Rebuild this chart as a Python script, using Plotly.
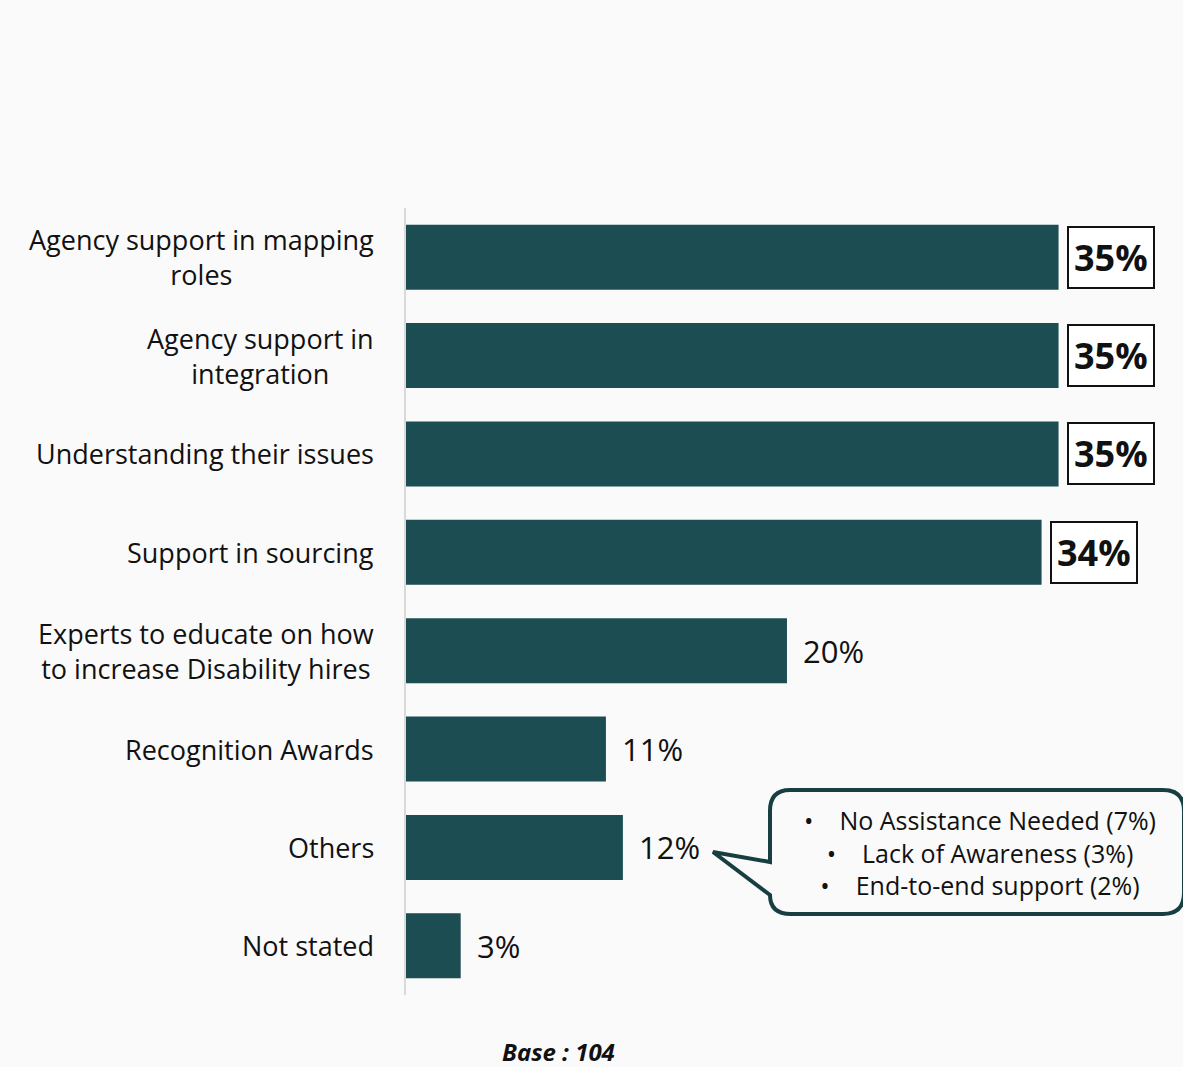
import plotly.graph_objects as go

categories = [
    "Agency support in mapping<br>roles",
    "Agency support in<br>integration",
    "Understanding their issues",
    "Support in sourcing",
    "Experts to educate on how<br>to increase Disability hires",
    "Recognition Awards",
    "Others",
    "Not stated",
]
values = [34.6, 34.6, 34.6, 33.7, 20.2, 10.6, 11.5, 2.9]
value_labels = ["35%", "35%", "35%", "34%", "20%", "11%", "12%", "3%"]
highlight = [True, True, True, True, False, False, False, False]
others_breakdown = [
    "No Assistance Needed (7%)",
    "Lack of Awareness (3%)",
    "End-to-end support (2%)",
]
base_text = "104"

BAR = "#1b4d52"
BG = "#fafafa"
FONT = "Open Sans"

W, H = 1183, 1067
ML, MR, MT, MB = 406, 23, 208, 72
PW, PH = W - ML - MR, H - MT - MB

ids = list(range(len(categories)))

fig = go.Figure(go.Bar(
    x=values, y=ids, orientation="h",
    marker=dict(color=BAR, line=dict(width=0)),
    hoverinfo="skip",
))

ann = []
for i, c in enumerate(categories):
    ann.append(dict(x=0, xref="paper", y=i, yref="y", text=c, showarrow=False,
                    xanchor="right", yanchor="middle", align="center", xshift=-30,
                    font=dict(family=FONT, size=27, color="#111111")))
for i, (v, lab, h) in enumerate(zip(values, value_labels, highlight)):
    if h:
        ann.append(dict(x=v, xref="x", y=i, yref="y", text="<b>%s</b>" % lab, showarrow=False,
                        xanchor="left", yanchor="middle", xshift=8,
                        bordercolor="#111111", borderwidth=2, borderpad=5, bgcolor="#ffffff",
                        font=dict(family=FONT, size=36, color="#111111")))
    else:
        ann.append(dict(x=v, xref="x", y=i, yref="y", text=lab, showarrow=False,
                        xanchor="left", yanchor="middle", xshift=14,
                        font=dict(family=FONT, size=31, color="#111111")))


def px(x):
    return (x - ML) / PW


def py(y):
    return (H - MB - y) / PH


pts = [("M", 790, 790), ("L", 1163, 790), ("Q", 1184, 790, 1184, 811), ("L", 1184, 893),
       ("Q", 1184, 914, 1163, 914), ("L", 791, 914), ("Q", 770, 914, 770, 895),
       ("L", 713, 852), ("L", 770, 862), ("L", 770, 811), ("Q", 770, 790, 790, 790)]
path = ""
for p in pts:
    cmd = p[0]
    coords = p[1:]
    s = []
    for k in range(0, len(coords), 2):
        s.append("%.5f,%.5f" % (px(coords[k]), py(coords[k + 1])))
    path += cmd + " " + " ".join(s) + " "
path += "Z"

shapes = [dict(type="path", xref="paper", yref="paper", path=path,
               line=dict(color="#173f42", width=4), fillcolor=BG, layer="above")]

callout_text = "<br>".join("•    " + t for t in others_breakdown)
ann.append(dict(x=px(980), xref="paper", y=py(852), yref="paper", text=callout_text,
                showarrow=False, xanchor="center", yanchor="middle", align="center",
                font=dict(family=FONT, size=25, color="#111111")))

ann.append(dict(x=px(558), xref="paper", y=py(1051), yref="paper",
                text="<b><i>Base : %s</i></b>" % base_text, showarrow=False,
                xanchor="center", yanchor="middle",
                font=dict(family=FONT, size=24, color="#111111")))

fig.update_layout(
    width=W, height=H,
    margin=dict(l=ML, r=MR, t=MT, b=MB, autoexpand=False),
    paper_bgcolor=BG, plot_bgcolor=BG,
    bargap=0.34,
    showlegend=False,
    xaxis=dict(range=[0, PW / 18.86], visible=False, fixedrange=True),
    yaxis=dict(range=[len(categories) - 0.5, -0.5], showticklabels=False, showgrid=False,
               zeroline=False, showline=True, linecolor="#d9d9d9", linewidth=2,
               ticks="", fixedrange=True),
    annotations=ann,
    shapes=shapes,
)

fig.write_html(
    "out.html",
    config={"displayModeBar": False},
    post_script="document.body.style.margin='0';document.body.style.background='%s';" % BG,
)
